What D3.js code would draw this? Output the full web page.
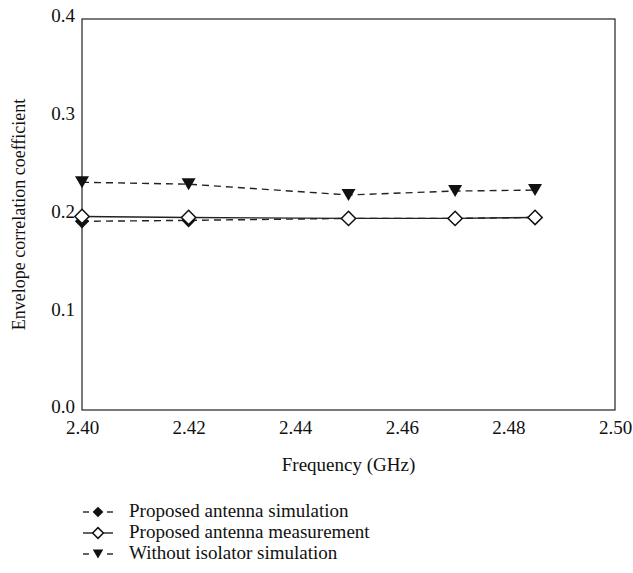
<!DOCTYPE html>
<html lang="en">
<head>
<meta charset="utf-8">
<title>Envelope correlation coefficient</title>
<script src="https://d3js.org/d3.v7.min.js"></script>
<style>
  body { margin: 0; background: #fff; }
</style>
</head>
<body>
<script>
// Values
const freqs = [2.40, 2.42, 2.45, 2.47, 2.485];
const proposedSim = [0.193, 0.194, 0.196, 0.196, 0.197];
const proposedMeas = [0.198, 0.197, 0.196, 0.196, 0.197];
const withoutIsolator = [0.233, 0.231, 0.220, 0.224, 0.225];
const xTicks = [2.40, 2.42, 2.44, 2.46, 2.48, 2.50];
const yTicks = [0.0, 0.1, 0.2, 0.3, 0.4];
const seriesNames = ["Proposed antenna simulation", "Proposed antenna measurement", "Without isolator simulation"];

const FONT = "'Liberation Serif', 'DejaVu Serif', serif";

drawChart();

function drawChart(){
  const width = 633;
  const height = 573;
  const marginTop = 19;
  const marginRight = 18;
  const marginLeft = 82;
  const plotBottom = 410;

  const svg = d3.select("body").append("svg")
    .attr("width", width)
    .attr("height", height)
    .attr("viewBox", [0, 0, width, height])
    .style("font-family", FONT);

  const x = d3.scaleLinear()
    .domain([2.40, 2.50])
    .range([marginLeft, width - marginRight]);

  const y = d3.scaleLinear()
    .domain([0, 0.4])
    .range([plotBottom, marginTop]);

  // frame
  svg.append("rect")
    .attr("x", x(2.40))
    .attr("y", y(0.4))
    .attr("width", x(2.50) - x(2.40))
    .attr("height", y(0) - y(0.4))
    .attr("fill", "none")
    .attr("stroke", "#222")
    .attr("stroke-width", 1.2);

  // x axis
  svg.append("g")
    .attr("transform", `translate(0,${plotBottom})`)
    .call(d3.axisBottom(x).tickValues(xTicks).tickSize(0).tickPadding(11).tickFormat(d3.format(".2f")))
    .call(g => g.select(".domain").remove())
    .call(g => g.selectAll("text").style("font-size", "19px").style("font-family", FONT).attr("fill", "#111"));

  // y axis
  svg.append("g")
    .attr("transform", `translate(${marginLeft},0)`)
    .call(d3.axisLeft(y).tickValues(yTicks).tickSize(0).tickPadding(7).tickFormat(d3.format(".1f")))
    .call(g => g.select(".domain").remove())
    .call(g => g.selectAll("text").attr("dy", "0.15em").style("font-size", "19px").style("font-family", FONT).attr("fill", "#111"));

  svg.append("text")
    .attr("x", (x(2.40) + x(2.50)) / 2)
    .attr("y", 471)
    .attr("text-anchor", "middle")
    .style("font-size", "19px")
    .attr("fill", "#111")
    .text("Frequency (GHz)");

  svg.append("text")
    .attr("transform", `translate(25,${(y(0) + y(0.4)) / 2}) rotate(-90)`)
    .attr("text-anchor", "middle")
    .style("font-size", "18px")
    .attr("fill", "#111")
    .text("Envelope correlation coefficient");

  const line = d3.line().x(d => x(d[0])).y(d => y(d[1]));

  const series = [
    {name: seriesNames[0], vals: proposedSim, dash: "7,5", marker: "diamondFill"},
    {name: seriesNames[1], vals: proposedMeas, dash: null, marker: "diamondOpen"},
    {name: seriesNames[2], vals: withoutIsolator, dash: "7,5", marker: "triangle"}
  ];

  const diamond = d3.symbol().type(d3.symbolDiamond2).size(130)();
  const tri = "M-7,-6L7,-6L0,6Z";

  function drawMarker(g, type, cx, cy, k) {
    const t = `translate(${cx},${cy}) scale(${k})`;
    if (type === "triangle") {
      g.append("path").attr("d", tri).attr("transform", t).attr("fill", "#111");
    } else if (type === "diamondFill") {
      g.append("path").attr("d", diamond).attr("transform", t).attr("fill", "#111");
    } else {
      g.append("path").attr("d", diamond).attr("transform", t)
        .attr("fill", "#fff").attr("stroke", "#111").attr("stroke-width", 1.5 / k);
    }
  }

  // draw lines then markers (open diamonds on top)
  series.forEach(s => {
    svg.append("path")
      .datum(freqs.map((f, i) => [f, s.vals[i]]))
      .attr("fill", "none")
      .attr("stroke", "#222")
      .attr("stroke-width", 1.4)
      .attr("stroke-dasharray", s.dash)
      .attr("d", line);
  });
  [2, 0, 1].forEach(k => {
    const s = series[k];
    const g = svg.append("g");
    freqs.forEach((f, i) => drawMarker(g, s.marker, x(f), y(s.vals[i]), 1));
  });

  // legend
  const legend = svg.append("g");
  series.forEach((s, i) => {
    const ly = 512 + i * 21;
    const g = legend.append("g");
    if (s.dash) {
      g.append("line").attr("x1", 83).attr("x2", 89).attr("y1", ly).attr("y2", ly).attr("stroke", "#222").attr("stroke-width", 1.4);
      g.append("line").attr("x1", 107).attr("x2", 113).attr("y1", ly).attr("y2", ly).attr("stroke", "#222").attr("stroke-width", 1.4);
    } else {
      g.append("line").attr("x1", 83).attr("x2", 113).attr("y1", ly).attr("y2", ly).attr("stroke", "#222").attr("stroke-width", 1.4);
    }
    drawMarker(g, s.marker, 98, ly, 0.75);
    g.append("text")
      .attr("x", 129)
      .attr("y", ly + 5)
      .style("font-size", "19px")
      .attr("fill", "#111")
      .text(s.name);
  });
}
</script>
</body>
</html>
